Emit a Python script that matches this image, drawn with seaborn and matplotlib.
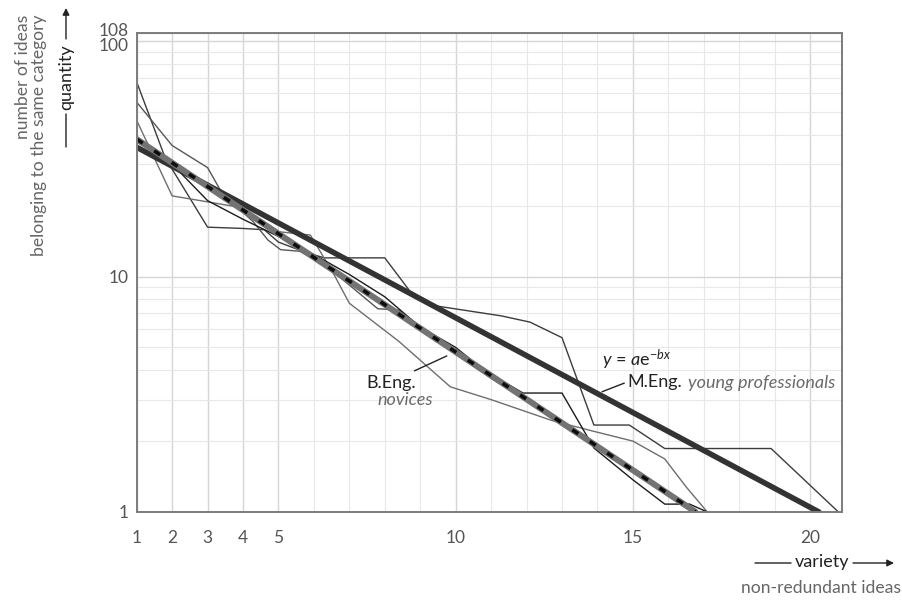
import matplotlib.pyplot as plt
import seaborn as sns
from matplotlib.ticker import FixedLocator, NullFormatter
from matplotlib.transforms import ScaledTranslation

# thin curves (x = rank of category, y = ideas in it)
meng_x = [1, 1.8, 3, 4, 4.6, 5, 5.8, 6.3, 8, 8.7, 9.45, 11.3, 12.1, 13, 13.9, 14.9, 15.9, 18.9, 20.8]
meng_y = [67, 32, 16.2, 16, 15.8, 14, 12.6, 12, 12, 8.7, 7.5, 6.8, 6.4, 5.5, 2.34, 2.34, 1.86, 1.86, 1.0]

beng_a_x = [1, 2, 3, 3.35, 3.83, 4.3, 4.7, 5.06, 5.6, 6.3, 7.0, 7.8, 8.4, 9.5, 11, 12.5, 14, 15, 16, 16.7]
beng_a_y = [55, 36, 29, 23.4, 19.8, 17, 14.3, 13, 12.8, 11.2, 9.2, 7.3, 7.2, 5.3, 3.7, 2.7, 1.85, 1.5, 1.17, 1.0]

beng_b_x = [1, 2, 3.8, 5, 5.9, 6.55, 7, 8.4, 9.85, 11, 12.7, 13.9, 15, 15.9, 16.5, 17.1]
beng_b_y = [46, 22, 19.8, 15.5, 15, 10.3, 7.7, 5.3, 3.4, 3.0, 2.45, 2.2, 2.0, 1.68, 1.28, 1.0]

beng_c_x = [1, 2, 3, 4, 5, 6, 7, 8, 9, 10, 10.8, 11.9, 13, 13.9, 15, 15.9, 16.6, 17.1]
beng_c_y = [39, 30, 21, 17.5, 14.8, 12.4, 10.2, 8.2, 6.1, 5.0, 4.0, 3.2, 3.2, 1.87, 1.37, 1.08, 1.08, 1.0]

# fitted y = a*e^(-bx), end points
fit_meng_x = [1, 20.25]
fit_meng_y = [35.4, 1.0]
fit_beng_x = [1, 16.77]
fit_beng_y = [38.3, 1.0]

x_ticks = [1, 2, 3, 4, 5, 10, 15, 20]
y_ticks = [1, 10, 100, 108]
y_labels = ["1", "10", "100", "108"]

thin = [
    (meng_x, meng_y, "#3c3c3c"),
    (beng_a_x, beng_a_y, "#565656"),
    (beng_b_x, beng_b_y, "#6e6e6e"),
    (beng_c_x, beng_c_y, "#1c1c1c"),
]

sns.set_theme(style="white")
plt.rcParams["font.family"] = ["Lato", "DejaVu Sans"]
plt.rcParams["mathtext.fontset"] = "custom"
plt.rcParams["mathtext.rm"] = "Lato"
plt.rcParams["mathtext.it"] = "Lato:italic"

fig = plt.figure(figsize=(9.03, 6.0), dpi=100)
ax = fig.add_axes([0.1514, 0.1467, 0.781, 0.798])
ax.set_yscale("log")

for xs, ys, c in thin:
    sns.lineplot(x=xs, y=ys, ax=ax, color=c, lw=1.0, sort=False, estimator=None)

sns.lineplot(x=fit_meng_x, y=fit_meng_y, ax=ax, color="#333333", lw=4.0, sort=False, estimator=None)
sns.lineplot(x=fit_beng_x, y=fit_beng_y, ax=ax, color="#737373", lw=4.4, sort=False, estimator=None)
sns.lineplot(x=fit_beng_x, y=fit_beng_y, ax=ax, color="#0d0d0d", lw=2.6, sort=False, estimator=None)
ax.lines[-1].set_dashes((2.0, 3.8))

ax.set_xlim(1, 20.9)
ax.set_ylim(1, 108)

ax.xaxis.set_major_locator(FixedLocator(x_ticks))
ax.xaxis.set_minor_locator(FixedLocator(list(range(1, 21))))
ax.set_xticklabels([str(t) for t in x_ticks])
ax.yaxis.set_major_locator(FixedLocator(y_ticks))
ax.yaxis.set_minor_locator(FixedLocator([m * d for d in (1, 10) for m in range(2, 10)]))
ax.yaxis.set_minor_formatter(NullFormatter())
ax.set_yticklabels(y_labels)

ax.grid(True, which="major", color="#d6d6d6", lw=1.0)
ax.grid(True, which="minor", color="#e8e8e8", lw=0.8)
ax.set_axisbelow(True)
for s in ax.spines.values():
    s.set_color("#7c7c7c")
    s.set_linewidth(1.4)

ax.tick_params(which="both", length=0)
ax.tick_params(axis="x", pad=13, labelsize=12.5, labelcolor="#555555")
ax.tick_params(axis="y", pad=6, labelsize=12.5, labelcolor="#555555")
ax.set_xlabel("")
ax.set_ylabel("")

# spread the crowded 100 / 108 labels apart
ylab = ax.get_yticklabels()
ylab[3].set_transform(ylab[3].get_transform() + ScaledTranslation(0, 3 / 72, fig.dpi_scale_trans))
ylab[2].set_transform(ylab[2].get_transform() + ScaledTranslation(0, -2.5 / 72, fig.dpi_scale_trans))

# annotations
beng_txt = ax.annotate(
    "B.Eng.", xy=(9.75, 4.6), xytext=(8.18, 3.54), ha="center", va="center",
    fontsize=13, color="#222222",
    arrowprops=dict(arrowstyle="-", color="#222222", lw=1.0, relpos=(0.8, 1.0), shrinkA=1, shrinkB=0),
)
ax.annotate("novices", xy=(0.5, 0), xycoords=beng_txt, xytext=(-1, -1), textcoords="offset points",
            ha="center", va="top", fontsize=13, style="italic", color="#6a6a6a")

meng_txt = ax.annotate(
    "M.Eng.", xy=(14.13, 3.24), xytext=(14.85, 3.57), ha="left", va="center",
    fontsize=13, color="#222222",
    arrowprops=dict(arrowstyle="-", color="#222222", lw=1.0, relpos=(0, 0.5), shrinkA=0, shrinkB=0),
)
ax.annotate("young professionals", xy=(1, 0.5), xycoords=meng_txt, xytext=(4, 0), textcoords="offset points",
            ha="left", va="center", fontsize=13, style="italic", color="#6a6a6a")
ax.annotate(r"$y$ = $a$e$^{-bx}$", xy=(0, 1), xycoords=meng_txt, xytext=(0, 1), textcoords="offset points",
            ha="left", va="bottom", fontsize=13, color="#222222")

# axis captions
fig.text(23 / 903, 1 - 15 / 600, "number of ideas", rotation=90, ha="center", va="top",
         fontsize=12.6, color="#666666")
fig.text(39 / 903, 1 - 15 / 600, "belonging to the same category", rotation=90, ha="center", va="top",
         fontsize=12.6, color="#666666")
fig.text(66 / 903, 1 - 77 / 600, "quantity", rotation=90, ha="center", va="center",
         fontsize=13, color="#222222")
ax.annotate("", xy=(66 / 903, 1 - 147 / 600), xytext=(66 / 903, 1 - 114 / 600), xycoords="figure fraction",
            arrowprops=dict(arrowstyle="-", color="#222222", lw=1.0, shrinkA=0, shrinkB=0))
ax.annotate("", xy=(66 / 903, 1 - 8 / 600), xytext=(66 / 903, 1 - 39 / 600), xycoords="figure fraction",
            arrowprops=dict(arrowstyle="-|>", color="#222222", lw=1.0, shrinkA=0, shrinkB=0,
                            mutation_scale=10))

fig.text(822 / 903, 1 - 562 / 600, "variety", ha="center", va="center", fontsize=13, color="#222222")
ax.annotate("", xy=(755 / 903, 1 - 563 / 600), xytext=(791 / 903, 1 - 563 / 600), xycoords="figure fraction",
            arrowprops=dict(arrowstyle="-", color="#222222", lw=1.0, shrinkA=0, shrinkB=0))
ax.annotate("", xy=(894 / 903, 1 - 563 / 600), xytext=(853 / 903, 1 - 563 / 600), xycoords="figure fraction",
            arrowprops=dict(arrowstyle="-|>", color="#222222", lw=1.0, shrinkA=0, shrinkB=0,
                            mutation_scale=10))
fig.text(901 / 903, 1 - 588 / 600, "non-redundant ideas", ha="right", va="center",
         fontsize=12.6, color="#666666")

fig.savefig("out.png", dpi=100)
